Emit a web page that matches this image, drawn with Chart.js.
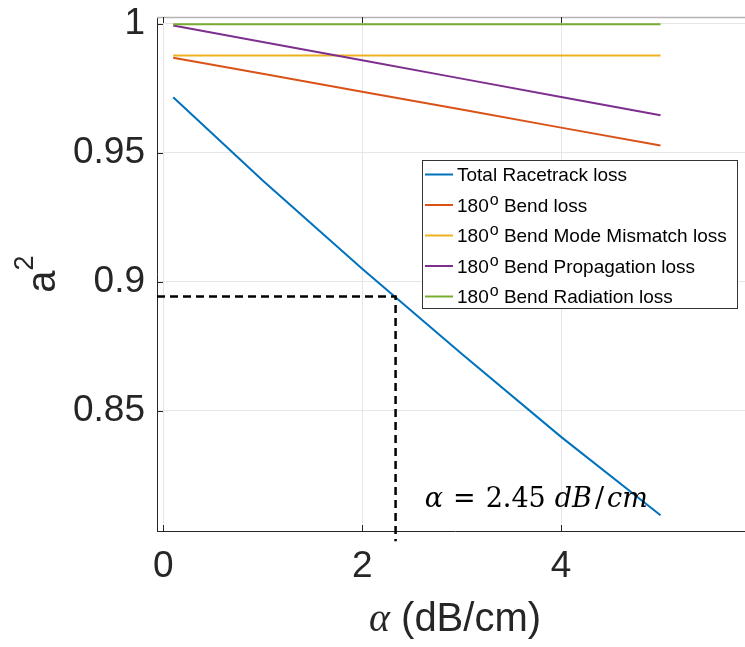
<!DOCTYPE html>
<html>
<head>
<meta charset="utf-8">
<script src="https://cdn.jsdelivr.net/npm/chart.js@4.4.0/dist/chart.umd.min.js"></script>
<style>
  html, body { margin: 0; padding: 0; overflow: hidden; background: #fff; }
  #wrap { width: 760px; height: 647px; }
</style>
</head>
<body>
<div id="wrap"><canvas id="lossChart" width="760" height="647"></canvas></div>
<script>
// ---- data ----
const alphaDb = [0.1, 1, 2, 3, 4, 5];
const totalRacetrack = [0.9715, 0.9392, 0.9050, 0.8720, 0.8398, 0.8094];
const bendLoss = [0.9868, 0.9806, 0.9736, 0.9667, 0.9597, 0.9528];
const mismatchLoss = [0.9877, 0.9877, 0.9877, 0.9877, 0.9877, 0.9877];
const propagationLoss = [0.9993, 0.9929, 0.9858, 0.9787, 0.9716, 0.9645];
const radiationLoss = [0.9998, 0.9998, 0.9998, 0.9998, 0.9998, 0.9998];

const seriesNames = [
    'Total Racetrack loss',
    '180^o Bend loss',
    '180^o Bend Mode Mismatch loss',
    '180^o Bend Propagation loss',
    '180^o Bend Radiation loss'
];
const seriesColors = ['#0072BD', '#D95319', '#EDB120', '#7E2F8E', '#77AC30'];

// dashed guide to the operating point
const markX = [-0.063, 2.336, 2.336];
const markY = [0.8942, 0.8942, 0.7993];

const xTicks = [0, 2, 4];
const yTicks = [0.85, 0.9, 0.95, 1];
const xRange = [-0.063, 5.93];
const yRange = [0.8033, 1.0026];

const SANS = '"Liberation Sans", Arial, Helvetica, sans-serif';
const SERIF = '"Liberation Serif", "Times New Roman", serif';
const MATH = '"DejaVu Serif", "Liberation Serif", serif';
const INK = '#262626';

const toPts = (xs, ys) => xs.map((v, i) => ({ x: v, y: ys[i] }));

function line(ctx, x1, y1, x2, y2) {
    ctx.beginPath(); ctx.moveTo(x1, y1); ctx.lineTo(x2, y2); ctx.stroke();
}

// text with "^o" superscripts (180^o)
function drawSup(ctx, txt, x, y, size) {
    const parts = txt.split('^o');
    parts.forEach((p, i) => {
        ctx.font = size + 'px ' + SANS;
        ctx.fillText(p, x, y);
        x += ctx.measureText(p).width;
        if (i < parts.length - 1) {
            ctx.font = Math.round(size * 0.85) + 'px ' + SANS;
            ctx.fillText('o', x + 1, y - 7);
            x += ctx.measureText('o').width + 1;
        }
    });
}

const decor = {
    id: 'decor',
    afterDraw(chart) {
        const { ctx, chartArea: a, scales: { x, y } } = chart;
        ctx.save();

        // box top edge + inward ticks (matlab style)
        ctx.strokeStyle = '#b4b4b4'; ctx.lineWidth = 1.5;
        line(ctx, a.left, a.top + 0.5, a.right, a.top + 0.5);
        ctx.strokeStyle = INK; ctx.lineWidth = 1;
        xTicks.forEach(v => {
            const px = Math.round(x.getPixelForValue(v)) + 0.5;
            line(ctx, px, a.bottom, px, a.bottom - 6);
            line(ctx, px, a.top, px, a.top + 6);
        });
        yTicks.forEach(v => {
            const py = Math.round(y.getPixelForValue(v)) + 0.5;
            line(ctx, a.left, py, a.left + 6, py);
        });

        // annotation  alpha = 2.45 dB/cm  (piece, style, gap after)
        ctx.fillStyle = '#000';
        ctx.textBaseline = 'alphabetic';
        let tx = x.getPixelForValue(2.63);
        const ty = y.getPixelForValue(0.8125);
        const bits = [['α', 'italic', 10], ['=', '', 10], ['2.45', '', 9], ['dB', 'italic', 3], ['/', '', 3], ['cm', 'italic', 0]];
        bits.forEach(([s, st, gap]) => {
            ctx.font = (st ? st + ' ' : '') + '27px ' + MATH;
            ctx.fillText(s, tx, ty);
            tx += ctx.measureText(s).width + gap;
        });

        // legend
        const lx = a.left + 265, ly = a.top + 143, lw = 315, lh = 148;
        ctx.fillStyle = '#fff';
        ctx.fillRect(lx, ly, lw, lh);
        ctx.strokeStyle = '#333'; ctx.lineWidth = 1;
        ctx.strokeRect(lx + 0.5, ly + 0.5, lw, lh);
        chart.data.datasets.forEach((ds, i) => {
            if (ds.hideInLegend) return;
            const cy = ly + 14.5 + i * 30.5;
            ctx.strokeStyle = ds.borderColor; ctx.lineWidth = 2;
            line(ctx, lx + 3, cy, lx + 31, cy);
            ctx.fillStyle = '#000';
            drawSup(ctx, ds.label, lx + 35, cy + 6.5, 19);
        });

        // x axis title: alpha (dB/cm)
        ctx.fillStyle = INK;
        ctx.font = 'italic 40px ' + SERIF;
        const wA = ctx.measureText('α').width;
        ctx.font = '40px ' + SANS;
        const wR = ctx.measureText(' (dB/cm)').width;
        const sx = (a.left + a.right) / 2 - (wA + wR) / 2;
        ctx.font = 'italic 40px ' + SERIF;
        ctx.fillText('α', sx, 631);
        ctx.font = '40px ' + SANS;
        ctx.fillText(' (dB/cm)', sx + wA, 631);

        // y axis title: a^2
        ctx.save();
        ctx.translate(55, (a.top + a.bottom) / 2);
        ctx.rotate(-Math.PI / 2);
        ctx.font = '40px ' + SANS;
        const wa = ctx.measureText('a').width;
        ctx.font = '27px ' + SANS;
        const w2 = ctx.measureText('2').width;
        const s0 = -(wa + w2) / 2;
        ctx.font = '40px ' + SANS;
        ctx.fillText('a', s0, 0);
        ctx.font = '27px ' + SANS;
        ctx.fillText('2', s0 + wa, -22);
        ctx.restore();

        ctx.restore();
    }
};

const seriesData = [totalRacetrack, bendLoss, mismatchLoss, propagationLoss, radiationLoss];

const datasets = seriesData.map((vals, i) => ({
    label: seriesNames[i],
    data: toPts(alphaDb, vals),
    borderColor: seriesColors[i],
    borderWidth: 2,
    pointRadius: 0,
    fill: false,
    order: 5 - i
}));
datasets.push({
    label: 'marker',
    hideInLegend: true,
    data: toPts(markX, markY),
    borderColor: '#000',
    borderWidth: 2.5,
    borderDash: [8, 5],
    pointRadius: 0,
    fill: false,
    clip: false,
    order: 0
});

new Chart(document.getElementById('lossChart'), {
    type: 'line',
    data: { datasets },
    options: {
        responsive: false,
        animation: false,
        layout: { padding: { top: 17, right: 7, left: 0, bottom: 0 } },
        plugins: { legend: { display: false }, tooltip: { enabled: false } },
        scales: {
            x: {
                type: 'linear',
                min: xRange[0], max: xRange[1],
                afterBuildTicks: s => { s.ticks = xTicks.map(v => ({ value: v })); },
                afterFit: s => { s.height = 116; s.paddingLeft = 0; s.paddingRight = 0; },
                grid: { color: '#e6e6e6', lineWidth: 1, drawTicks: false },
                border: { color: INK, width: 1 },
                ticks: { padding: 14, color: INK, font: { family: SANS, size: 37 }, maxRotation: 0 }
            },
            y: {
                type: 'linear',
                min: yRange[0], max: yRange[1],
                afterBuildTicks: s => { s.ticks = yTicks.map(v => ({ value: v })); },
                afterFit: s => { s.width = 157; s.paddingTop = 0; s.paddingBottom = 0; },
                grid: { color: '#e6e6e6', lineWidth: 1, drawTicks: false },
                border: { color: INK, width: 1 },
                ticks: {
                    padding: 12, color: INK, font: { family: SANS, size: 37 },
                    callback: v => String(+v.toFixed(2))
                }
            }
        }
    },
    plugins: [decor]
});
</script>
</body>
</html>
